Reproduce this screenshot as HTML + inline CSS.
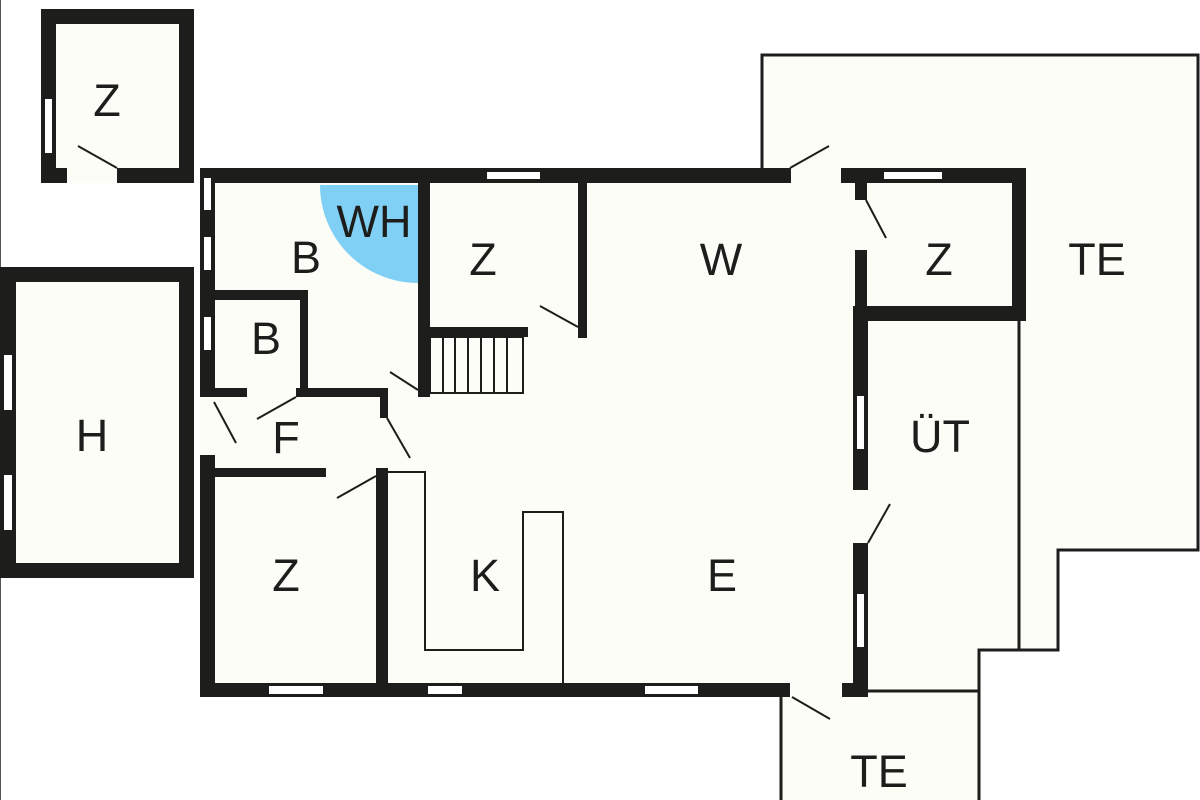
<!DOCTYPE html>
<html><head><meta charset="utf-8"><style>
html,body{margin:0;padding:0;background:#fff;}
svg{display:block;}
text{font-family:"Liberation Sans",sans-serif;font-size:45px;fill:#1d1d1b;text-anchor:middle;}
</style></head><body>
<svg width="1200" height="800" viewBox="0 0 1200 800" xmlns="http://www.w3.org/2000/svg">
<rect width="1200" height="800" fill="#fff"/>
<line x1="0.5" y1="0" x2="0.5" y2="800" stroke="#555" stroke-width="1"/>
<polygon points="762,55 1198,55 1198,550 1058,550 1058,650 979,650 979,800 781,800 781,690 762,690 762,55" fill="#fdfdf8"/>
<g fill="#fdfdf8">
<rect x="41" y="9" width="153" height="174"/>
<rect x="0" y="267" width="194" height="311"/>
<rect x="200" y="168" width="668" height="529"/>
<rect x="855" y="168" width="171" height="153"/>
<polygon points="853,306 1019,306 1019,650 979,650 979,692 853,692"/>
</g>
<g fill="none" stroke="#1d1d1b" stroke-width="3">
<polyline points="762,168 762,55 1198,55 1198,550 1058,550 1058,650 979,650 979,800"/>
<line x1="1019" y1="320" x2="1019" y2="650"/>
<line x1="866" y1="691" x2="979" y2="691"/>
<line x1="781" y1="695" x2="781" y2="800"/>
</g>
<path d="M418,185 L320,185 A98,98 0 0 0 418,283 Z" fill="#80d0f5"/>
<g fill="#1d1d1b">
<rect x="41" y="9" width="153" height="15"/>
<rect x="41" y="9" width="15" height="174"/>
<rect x="179" y="9" width="15" height="174"/>
<rect x="41" y="168" width="26" height="15"/>
<rect x="117" y="168" width="77" height="15"/>
<rect x="0" y="267" width="194" height="15"/>
<rect x="0" y="563" width="194" height="15"/>
<rect x="0" y="267" width="16" height="311"/>
<rect x="179" y="267" width="15" height="311"/>
<rect x="200" y="168" width="591" height="15"/>
<rect x="841" y="168" width="185" height="15"/>
<rect x="200" y="168" width="15" height="229"/>
<rect x="200" y="455" width="15" height="242"/>
<rect x="200" y="683" width="590" height="14"/>
<rect x="842" y="683" width="26" height="14"/>
<rect x="1012" y="168" width="14" height="153"/>
<rect x="855" y="306" width="171" height="15"/>
<rect x="855" y="168" width="12" height="32"/>
<rect x="855" y="250" width="12" height="60"/>
<rect x="853" y="306" width="15" height="184"/>
<rect x="853" y="543" width="15" height="154"/>
<rect x="418" y="182" width="12" height="215"/>
<rect x="578" y="182" width="9" height="156"/>
<rect x="430" y="327" width="98" height="10"/>
<rect x="214" y="290" width="94" height="10"/>
<rect x="300" y="290" width="8" height="107"/>
<rect x="214" y="388" width="33" height="9"/>
<rect x="296" y="388" width="92" height="9"/>
<rect x="380" y="388" width="8" height="30"/>
<rect x="214" y="468" width="112" height="9"/>
<rect x="376" y="468" width="12" height="215"/>
</g>
<g fill="#fff">
<rect x="487" y="172" width="53" height="7"/>
<rect x="884" y="172" width="58" height="7"/>
<rect x="45" y="99" width="7" height="54"/>
<rect x="4" y="355" width="8" height="55"/>
<rect x="4" y="475" width="8" height="55"/>
<rect x="204" y="178" width="7" height="32"/>
<rect x="204" y="237" width="7" height="33"/>
<rect x="204" y="317" width="7" height="33"/>
<rect x="269" y="686" width="54" height="8"/>
<rect x="428" y="686" width="34" height="8"/>
<rect x="645" y="686" width="53" height="8"/>
<rect x="857" y="396" width="7" height="53"/>
<rect x="857" y="594" width="7" height="53"/>
</g>
<g fill="none" stroke="#1d1d1b" stroke-width="2">
<rect x="430" y="337" width="93" height="56"/>
<path d="M443,337V393M455,337V393M468,337V393M481,337V393M494,337V393M507,337V393"/>
<polyline points="388,472 425,472 425,650 523,650 523,512 563,512 563,683"/>
</g>
<g stroke="#1d1d1b" stroke-width="2" fill="none">
<line x1="78" y1="146" x2="117" y2="168"/>
<line x1="790" y1="168" x2="829" y2="146"/>
<line x1="866" y1="200" x2="886" y2="238"/>
<line x1="540" y1="306" x2="578" y2="327"/>
<line x1="390" y1="372" x2="418" y2="390"/>
<line x1="257" y1="419" x2="296" y2="397"/>
<line x1="214" y1="402" x2="236" y2="443"/>
<line x1="387" y1="418" x2="410" y2="458"/>
<line x1="337" y1="498" x2="376" y2="476"/>
<line x1="868" y1="543" x2="890" y2="504"/>
<line x1="792" y1="697" x2="830" y2="719"/>
</g>
<text x="107" y="116">Z</text>
<text x="92" y="451">H</text>
<text x="306" y="273">B</text>
<text x="374" y="237">WH</text>
<text x="266" y="354">B</text>
<text x="286" y="453">F</text>
<text x="483" y="275">Z</text>
<text x="721" y="275">W</text>
<text x="939" y="275">Z</text>
<text x="1097" y="275">TE</text>
<text x="940" y="452">ÜT</text>
<text x="286" y="591">Z</text>
<text x="485" y="591">K</text>
<text x="722" y="591">E</text>
<text x="879" y="787">TE</text>
</svg>
</body></html>
